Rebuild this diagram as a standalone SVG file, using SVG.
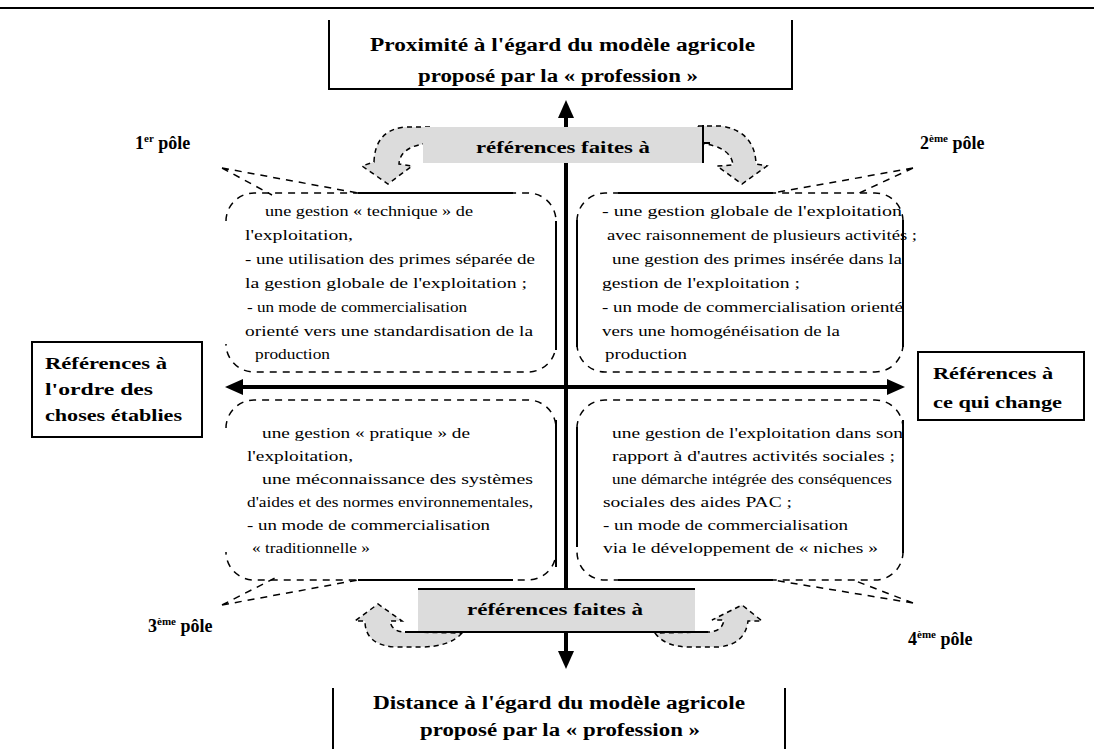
<svg xmlns="http://www.w3.org/2000/svg" width="1094" height="749" viewBox="0 0 1094 749">
  <style>
    text { font-family: "Liberation Serif", "Times New Roman", "DejaVu Serif", serif; fill: #000; }
    .q { font-size: 15px; }
    .b { font-size: 18px; font-weight: bold; }
    .lab { font-size: 16px; font-weight: bold; }
    .ban { font-size: 17px; font-weight: bold; }
    .pole { font-size: 18px; font-weight: bold; }
    .sup { font-size: 11px; }
    .box { fill: #fff; stroke: #000; stroke-width: 2; }
    .dash { fill: none; stroke: #000; stroke-width: 1.5; stroke-dasharray: 7 6; }
    .solid { fill: none; stroke: #000; stroke-width: 2; }
    .axis { fill: none; stroke: #000; stroke-width: 4; }
    .curl { fill: #dcdcdc; stroke: #000; stroke-width: 1.5; stroke-dasharray: 5 4; }
    .grey { fill: #dcdcdc; }
  </style>
  <defs>
    <marker id="head" viewBox="0 0 18 18" refX="4" refY="9" markerWidth="18" markerHeight="18" markerUnits="userSpaceOnUse" orient="auto-start-reverse">
      <path d="M0,1 L18,9 L0,17 Z" fill="#000"/>
    </marker>
  </defs>

  <rect width="1094" height="749" fill="#fff"/>
  <line x1="0" y1="8" x2="1094" y2="8" class="solid"/>

  <!-- axes and pole lines -->
  <g id="connectors">
    <line x1="566" y1="114" x2="566" y2="655" class="axis" marker-start="url(#head)" marker-end="url(#head)"/>
    <line x1="239" y1="387" x2="891" y2="387" class="axis" marker-start="url(#head)" marker-end="url(#head)"/>
    <g class="dash">
      <path d="M222,168 L358,193 M222,168 L272,195"/>
      <path d="M913,168 L773,193 M913,168 L855,195"/>
      <path d="M222,605 L358,580 M222,605 L275,578"/>
      <path d="M913,603 L773,580 M913,603 L853,580"/>
    </g>
  </g>

  <!-- top node -->
  <g id="top">
    <path d="M329,20 V89 H792 V20" class="solid"/>
    <text x="370" y="51" class="b" textLength="385" lengthAdjust="spacingAndGlyphs">Proximité à l'égard du modèle agricole</text>
    <text x="418" y="82" class="b" textLength="280" lengthAdjust="spacingAndGlyphs">proposé par la « profession »</text>
  </g>

  <!-- bottom node -->
  <g id="bottom">
    <path d="M333,688 V749 M785,688 V749" class="solid"/>
    <text x="373" y="709" class="b" textLength="372" lengthAdjust="spacingAndGlyphs">Distance à l'égard du modèle agricole</text>
    <text x="420" y="736" class="b" textLength="280" lengthAdjust="spacingAndGlyphs">proposé par la « profession »</text>
  </g>

  <!-- left node -->
  <g id="left">
    <rect x="32" y="342" width="170" height="95" class="box"/>
    <text x="45" y="369" class="lab" textLength="122" lengthAdjust="spacingAndGlyphs">Références à</text>
    <text x="45" y="395" class="lab" textLength="108" lengthAdjust="spacingAndGlyphs">l'ordre des</text>
    <text x="45" y="421" class="lab" textLength="137" lengthAdjust="spacingAndGlyphs">choses établies</text>
  </g>

  <!-- right node -->
  <g id="right">
    <rect x="918" y="352" width="166" height="68" class="box"/>
    <text x="933" y="379" class="lab" textLength="120" lengthAdjust="spacingAndGlyphs">Références à</text>
    <text x="933" y="408" class="lab" textLength="129" lengthAdjust="spacingAndGlyphs">ce qui change</text>
  </g>

  <!-- upper banner with its curled arrows -->
  <g id="banner-top">
    <path d="M430,127 L405,127 Q375,130 374,162 L362,166 L388,184 L412,166 L399,164 Q400,146 430,143 Z" class="curl"/>
    <path d="M698,126 L722,126 Q755,132 756,164 L767,166 L742,184 L717,166 L733,165 Q731,146 698,143 Z" class="curl"/>
    <rect x="423" y="127" width="280" height="36" class="grey"/>
    <path d="M703,125 V163 M703,143 H710" class="solid"/>
    <text x="476" y="153" class="ban" textLength="174" lengthAdjust="spacingAndGlyphs">références faites à</text>
  </g>

  <!-- lower banner with its curled arrows -->
  <g id="banner-bottom">
    <path d="M462,633 Q450,647 420,647 L395,647 Q365,645 365,621 L355,621 L378,604 L402,621 L390,621 Q392,632 405,632 Z" class="curl"/>
    <path d="M655,633 Q665,647 690,647 L718,647 Q745,645 748,621 L762,621 L742,605 L712,620 L724,620 Q722,632 708,632 Z" class="curl"/>
    <rect x="418" y="589" width="277" height="43" class="grey"/>
    <path d="M418,589 H695 M405,632 H708" class="solid"/>
    <text x="467" y="615" class="ban" textLength="176" lengthAdjust="spacingAndGlyphs">références faites à</text>
  </g>

  <!-- pole labels -->
  <g id="pole1"><text x="135" y="149" class="pole">1<tspan class="sup" dy="-7">er</tspan><tspan dy="7"> pôle</tspan></text></g>
  <g id="pole2"><text x="920" y="149" class="pole">2<tspan class="sup" dy="-7">ème</tspan><tspan dy="7"> pôle</tspan></text></g>
  <g id="pole3"><text x="148" y="632" class="pole">3<tspan class="sup" dy="-7">ème</tspan><tspan dy="7"> pôle</tspan></text></g>
  <g id="pole4"><text x="908" y="645" class="pole">4<tspan class="sup" dy="-7">ème</tspan><tspan dy="7"> pôle</tspan></text></g>

  <!-- quadrant 1 (upper left) -->
  <g id="q1">
    <path d="M226,221 A28,28 0 0 1 254,193 H528 A28,28 0 0 1 556,221 V344 A28,28 0 0 1 528,372 H254 A28,28 0 0 1 226,344" class="dash"/>
    <path d="M358,193 H513 M556,221 V350" class="solid"/>
    <text x="265" y="216" class="q" textLength="208" lengthAdjust="spacingAndGlyphs">une gestion « technique » de</text>
    <text x="245" y="240" class="q" textLength="108" lengthAdjust="spacingAndGlyphs">l'exploitation,</text>
    <text x="245" y="264" class="q" textLength="290" lengthAdjust="spacingAndGlyphs">- une utilisation des primes séparée de</text>
    <text x="245" y="288" class="q" textLength="282" lengthAdjust="spacingAndGlyphs">la gestion globale de l'exploitation ;</text>
    <text x="247" y="312" class="q" textLength="220" lengthAdjust="spacingAndGlyphs">- un mode de commercialisation</text>
    <text x="245" y="336" class="q" textLength="288" lengthAdjust="spacingAndGlyphs">orienté vers une standardisation de la</text>
    <text x="255" y="359" class="q" textLength="75" lengthAdjust="spacingAndGlyphs">production</text>
  </g>

  <!-- quadrant 2 (upper right) -->
  <g id="q2">
    <path d="M577,221 A28,28 0 0 1 605,193 H875 A28,28 0 0 1 903,221 V344 A28,28 0 0 1 875,372 H605 A28,28 0 0 1 577,344 Z" class="dash"/>
    <path d="M618,193 H773 M577,220 V347 M903,220 V347" class="solid"/>
    <text x="602" y="216" class="q" textLength="300" lengthAdjust="spacingAndGlyphs">- une gestion globale de l'exploitation</text>
    <text x="607" y="240" class="q" textLength="310" lengthAdjust="spacingAndGlyphs">avec raisonnement de plusieurs activités ;</text>
    <text x="612" y="264" class="q" textLength="290" lengthAdjust="spacingAndGlyphs">une gestion des primes insérée dans la</text>
    <text x="602" y="288" class="q" textLength="198" lengthAdjust="spacingAndGlyphs">gestion de l'exploitation ;</text>
    <text x="602" y="312" class="q" textLength="301" lengthAdjust="spacingAndGlyphs">- un mode de commercialisation orienté</text>
    <text x="602" y="336" class="q" textLength="238" lengthAdjust="spacingAndGlyphs">vers une homogénéisation de la</text>
    <text x="605" y="359" class="q" textLength="82" lengthAdjust="spacingAndGlyphs">production</text>
  </g>

  <!-- quadrant 3 (lower left) -->
  <g id="q3">
    <path d="M226,428 A28,28 0 0 1 254,400 H528 A28,28 0 0 1 556,428 V552 A28,28 0 0 1 528,580 H254 A28,28 0 0 1 226,552" class="dash"/>
    <path d="M358,580 H513 M556,420 V567" class="solid"/>
    <text x="262" y="438" class="q" textLength="208" lengthAdjust="spacingAndGlyphs">une gestion « pratique » de</text>
    <text x="247" y="461" class="q" textLength="106" lengthAdjust="spacingAndGlyphs">l'exploitation,</text>
    <text x="262" y="484" class="q" textLength="271" lengthAdjust="spacingAndGlyphs">une méconnaissance des systèmes</text>
    <text x="247" y="507" class="q" textLength="286" lengthAdjust="spacingAndGlyphs">d'aides et des normes environnementales,</text>
    <text x="247" y="530" class="q" textLength="243" lengthAdjust="spacingAndGlyphs">- un mode de commercialisation</text>
    <text x="252" y="553" class="q" textLength="118" lengthAdjust="spacingAndGlyphs">« traditionnelle »</text>
  </g>

  <!-- quadrant 4 (lower right) -->
  <g id="q4">
    <path d="M577,428 A28,28 0 0 1 605,400 H875 A28,28 0 0 1 903,428 V552 A28,28 0 0 1 875,580 H605 A28,28 0 0 1 577,552 Z" class="dash"/>
    <path d="M618,580 H773 M577,427 V547 M903,420 V553" class="solid"/>
    <text x="612" y="438" class="q" textLength="291" lengthAdjust="spacingAndGlyphs">une gestion de l'exploitation dans son</text>
    <text x="612" y="461" class="q" textLength="283" lengthAdjust="spacingAndGlyphs">rapport à d'autres activités sociales ;</text>
    <text x="612" y="484" class="q" textLength="280" lengthAdjust="spacingAndGlyphs">une démarche intégrée des conséquences</text>
    <text x="603" y="507" class="q" textLength="189" lengthAdjust="spacingAndGlyphs">sociales des aides PAC ;</text>
    <text x="603" y="530" class="q" textLength="245" lengthAdjust="spacingAndGlyphs">- un mode de commercialisation</text>
    <text x="603" y="553" class="q" textLength="275" lengthAdjust="spacingAndGlyphs">via le développement de « niches »</text>
  </g>
</svg>
